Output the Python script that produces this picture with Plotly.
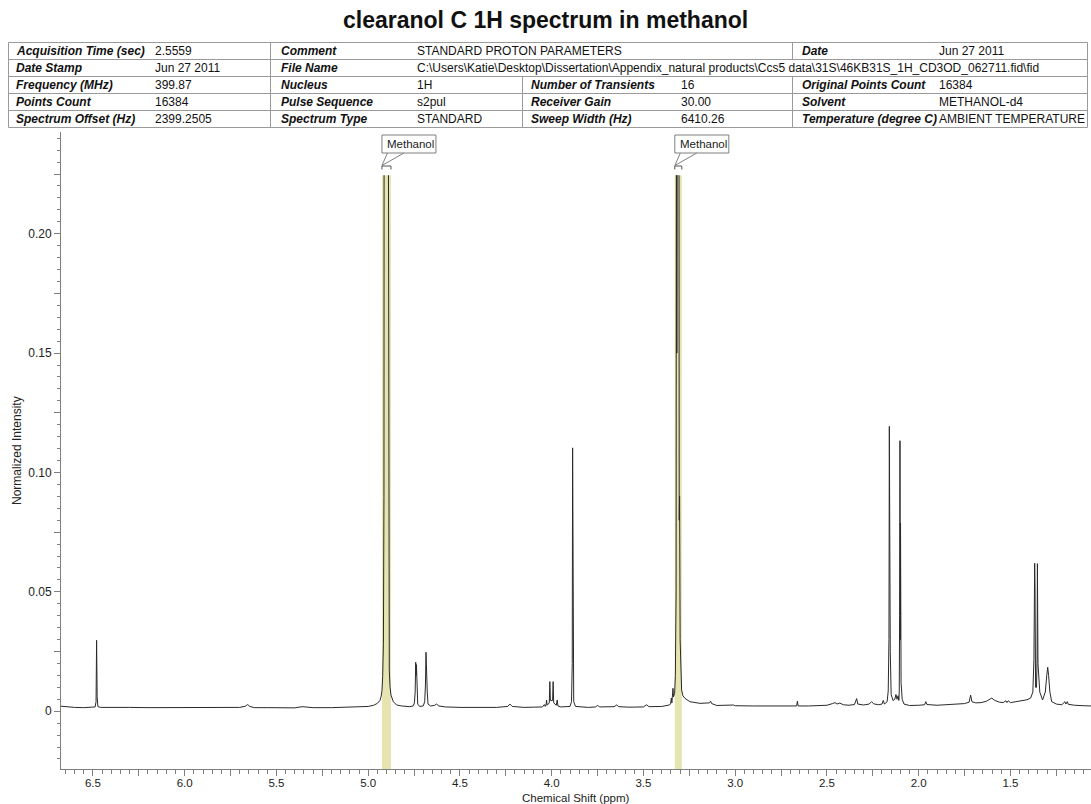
import plotly.graph_objects as go

# ---------------- spectrum: chemical shift (ppm) / normalized intensity ----------------
shift_ppm = [
    6.674, 6.660, 6.640, 6.600, 6.550, 6.500, 6.488, 6.483, 6.480, 6.477, 6.473, 6.460,
    6.400, 6.300, 6.200, 6.100, 6.000, 5.900, 5.850, 5.800, 5.700, 5.670, 5.657, 5.645,
    5.620, 5.550, 5.450, 5.400, 5.360, 5.340, 5.300, 5.200, 5.100, 5.030, 5.000, 4.970,
    4.950, 4.936, 4.930, 4.925, 4.921, 4.917, 4.914, 4.913, 4.902, 4.891, 4.889, 4.885,
    4.881, 4.876, 4.863, 4.845, 4.818, 4.790, 4.773, 4.755, 4.748, 4.744, 4.741, 4.739,
    4.737, 4.734, 4.730, 4.720, 4.700, 4.692, 4.688, 4.685, 4.683, 4.681, 4.678, 4.674,
    4.660, 4.640, 4.627, 4.615, 4.580, 4.500, 4.400, 4.300, 4.240, 4.228, 4.215, 4.150,
    4.100, 4.050, 4.040, 4.035, 4.030, 4.028, 4.025, 4.013, 4.010, 4.007, 3.995, 3.992,
    3.989, 3.975, 3.970, 3.966, 3.950, 3.900, 3.892, 3.888, 3.886, 3.884, 3.880, 3.870,
    3.800, 3.760, 3.749, 3.740, 3.700, 3.660, 3.646, 3.635, 3.580, 3.500, 3.483, 3.470,
    3.400, 3.370, 3.360, 3.352, 3.348, 3.345, 3.342, 3.339, 3.336, 3.330, 3.326, 3.322,
    3.320, 3.318, 3.316, 3.313, 3.307, 3.305, 3.303, 3.300, 3.296, 3.292, 3.285, 3.274,
    3.247, 3.192, 3.140, 3.134, 3.128, 3.100, 3.009, 3.000, 2.900, 2.800, 2.700, 2.665,
    2.661, 2.657, 2.600, 2.550, 2.500, 2.470, 2.456, 2.445, 2.430, 2.410, 2.380, 2.350,
    2.338, 2.332, 2.300, 2.270, 2.257, 2.245, 2.220, 2.200, 2.193, 2.187, 2.172, 2.166,
    2.162, 2.160, 2.158, 2.157, 2.155, 2.150, 2.140, 2.130, 2.124, 2.118, 2.112, 2.108,
    2.106, 2.104, 2.102, 2.100, 2.099, 2.096, 2.090, 2.080, 2.050, 2.000, 1.968, 1.961,
    1.955, 1.900, 1.850, 1.800, 1.750, 1.725, 1.717, 1.710, 1.690, 1.660, 1.630, 1.602,
    1.585, 1.560, 1.540, 1.525, 1.519, 1.512, 1.500, 1.470, 1.440, 1.410, 1.390, 1.378,
    1.372, 1.368, 1.366, 1.363, 1.358, 1.355, 1.353, 1.350, 1.340, 1.325, 1.310, 1.302,
    1.297, 1.292, 1.285, 1.275, 1.250, 1.220, 1.203, 1.198, 1.190, 1.185, 1.150, 1.100,
    1.061,
]
intensity = [
    0.0021, 0.0020, 0.0017, 0.0016, 0.0015, 0.0016, 0.0018, 0.0040, 0.0297, 0.0060, 0.0020, 0.0016,
    0.0015, 0.0016, 0.0015, 0.0015, 0.0016, 0.0015, 0.0017, 0.0015, 0.0016, 0.0021, 0.0028, 0.0020,
    0.0015, 0.0015, 0.0014, 0.0014, 0.0019, 0.0018, 0.0015, 0.0015, 0.0016, 0.0017, 0.0020, 0.0025,
    0.0033, 0.0045, 0.0060, 0.0085, 0.0145, 0.0285, 0.0900, 0.3000, 0.9000, 0.3000, 0.0900, 0.0173,
    0.0103, 0.0068, 0.0040, 0.0026, 0.0022, 0.0020, 0.0019, 0.0022, 0.0035, 0.0080, 0.0205, 0.0150,
    0.0195, 0.0070, 0.0030, 0.0020, 0.0022, 0.0040, 0.0110, 0.0247, 0.0160, 0.0212, 0.0080, 0.0030,
    0.0022, 0.0024, 0.0030, 0.0022, 0.0018, 0.0016, 0.0016, 0.0016, 0.0020, 0.0030, 0.0020, 0.0016,
    0.0017, 0.0018, 0.0028, 0.0020, 0.0030, 0.0047, 0.0025, 0.0035, 0.0124, 0.0045, 0.0045, 0.0124,
    0.0035, 0.0025, 0.0047, 0.0022, 0.0018, 0.0020, 0.0040, 0.0200, 0.1103, 0.0200, 0.0040, 0.0020,
    0.0016, 0.0018, 0.0025, 0.0018, 0.0017, 0.0019, 0.0026, 0.0019, 0.0017, 0.0018, 0.0027, 0.0019,
    0.0020, 0.0023, 0.0026, 0.0030, 0.0055, 0.0035, 0.0060, 0.0096, 0.0060, 0.0075, 0.0150, 0.0500,
    0.3500, 0.1500, 0.1710, 0.4000, 0.3500, 0.0800, 0.0900, 0.0300, 0.0150, 0.0089, 0.0065, 0.0054,
    0.0040, 0.0033, 0.0035, 0.0042, 0.0032, 0.0024, 0.0026, 0.0023, 0.0022, 0.0022, 0.0021, 0.0022,
    0.0042, 0.0022, 0.0022, 0.0023, 0.0025, 0.0032, 0.0036, 0.0030, 0.0034, 0.0027, 0.0025, 0.0028,
    0.0053, 0.0030, 0.0026, 0.0030, 0.0040, 0.0031, 0.0027, 0.0030, 0.0045, 0.0030, 0.0040, 0.0085,
    0.0300, 0.1193, 0.0400, 0.1098, 0.0250, 0.0070, 0.0045, 0.0050, 0.0070, 0.0050, 0.0065, 0.0045,
    0.0080, 0.0400, 0.1133, 0.0300, 0.0788, 0.0120, 0.0050, 0.0030, 0.0024, 0.0025, 0.0027, 0.0040,
    0.0028, 0.0025, 0.0027, 0.0029, 0.0032, 0.0038, 0.0068, 0.0040, 0.0035, 0.0036, 0.0042, 0.0055,
    0.0045, 0.0038, 0.0036, 0.0044, 0.0036, 0.0044, 0.0036, 0.0040, 0.0044, 0.0048, 0.0055, 0.0080,
    0.0215, 0.0620, 0.0520, 0.0100, 0.0100, 0.0215, 0.0618, 0.0200, 0.0080, 0.0047, 0.0080, 0.0150,
    0.0184, 0.0150, 0.0080, 0.0040, 0.0030, 0.0027, 0.0040, 0.0030, 0.0040, 0.0029, 0.0025, 0.0023,
    0.0022,
]

# solvent regions highlighted on the spectrum (high ppm, low ppm)
solvent_label = "Methanol"
solvent_regions = [(4.925, 4.876), (3.329, 3.291)]

# display window of the spectrum
x_window = (6.674, 1.061)
y_window = (-0.0242, 0.2426)
clip_level = 0.2245  # spectrum drawing is cut off at this intensity

x_major = [6.5 - 0.25 * i for i in range(22)]
y_major = [0.025 * i for i in range(10)]

title_text = "clearanol C 1H spectrum in methanol"

file_name = r"C:\Users\Katie\Desktop\Dissertation\Appendix_natural products\Ccs5 data\31S\46KB31S_1H_CD3OD_062711.fid\fid"

# acquisition parameter table, four label/value groups per row (None = spanned cell)
param_rows = [
    [("Acquisition Time (sec)", "2.5559"), ("Comment", "STANDARD PROTON PARAMETERS"), None, ("Date", "Jun 27 2011")],
    [("Date Stamp", "Jun 27 2011"), ("File Name", file_name), None, None],
    [("Frequency (MHz)", "399.87"), ("Nucleus", "1H"), ("Number of Transients", "16"), ("Original Points Count", "16384")],
    [("Points Count", "16384"), ("Pulse Sequence", "s2pul"), ("Receiver Gain", "30.00"), ("Solvent", "METHANOL-d4")],
    [("Spectrum Offset (Hz)", "2399.2505"), ("Spectrum Type", "STANDARD"), ("Sweep Width (Hz)", "6410.26"), ("Temperature (degree C)", "AMBIENT TEMPERATURE")],
]

# ---------------- page geometry (pixels) ----------------
W, H = 1091, 804
ML, MR, MT, MB = 61, 0, 132, 35
PW, PH = W - ML - MR, H - MT - MB
FONT = "Liberation Sans, Arial, Helvetica, sans-serif"
GRID = "#9a9a9a"
AXIS = "#7f7f7f"


def px(x):
    return (x - ML) / PW


def py(y):
    return (H - MB - y) / PH


# table layout
table_left, table_right = 8.5, 1087.5
row_top, row_h = 42.5, 17.0
group_label_x = [14, 279, 529, 800]
group_value_x = [153, 415, 679, 937]
group_divider_x = [270.5, 522.5, 792.5]

shapes = []
annotations = []

# solvent bands
for hi, lo in solvent_regions:
    shapes.append(dict(type="rect", xref="x", yref="y", x0=hi, x1=lo,
                       y0=y_window[0], y1=clip_level, fillcolor="#e6e4b1",
                       line=dict(width=0), layer="below"))

# solvent callouts: labelled box, pointer and bracket over each band
ppm_per_px = (x_window[0] - x_window[1]) / PW
for hi, lo in solvent_regions:
    bx0, bx1 = hi, hi - 54 * ppm_per_px
    shapes.append(dict(type="rect", xref="x", yref="paper", x0=bx0, x1=bx1,
                       y0=py(153), y1=py(135), fillcolor="white",
                       line=dict(color=AXIS, width=1)))
    pa, pb = hi - 5.5 * ppm_per_px, hi - 22 * ppm_per_px
    shapes.append(dict(type="path", xref="x", yref="paper",
                       path=f"M {pa},{py(153)} L {hi},{py(165.5)} L {pb},{py(153)}",
                       line=dict(color=AXIS, width=1)))
    shapes.append(dict(type="path", xref="x", yref="paper",
                       path=f"M {hi},{py(169.5)} L {hi},{py(166)} L {lo},{py(166)} L {lo},{py(169.5)}",
                       line=dict(color="#555555", width=1)))
    annotations.append(dict(text=solvent_label, xref="x", yref="paper",
                            x=(bx0 + bx1) / 2 - 1.5 * ppm_per_px, y=py(144),
                            xanchor="center", yanchor="middle", showarrow=False,
                            font=dict(family=FONT, size=11.5, color="#222222")))

# parameter table grid
n_rows = len(param_rows)
for i in range(n_rows + 1):
    yy = row_top + i * row_h
    shapes.append(dict(type="line", xref="paper", yref="paper",
                       x0=px(table_left), x1=px(table_right), y0=py(yy), y1=py(yy),
                       line=dict(color=GRID, width=1)))
for xx in (table_left, table_right):
    shapes.append(dict(type="line", xref="paper", yref="paper",
                       x0=px(xx), x1=px(xx), y0=py(row_top), y1=py(row_top + n_rows * row_h),
                       line=dict(color=GRID, width=1)))
for r, row in enumerate(param_rows):
    y_top, y_bot = row_top + r * row_h, row_top + (r + 1) * row_h
    for g in range(1, 4):
        if row[g] is not None:
            xx = group_divider_x[g - 1]
            shapes.append(dict(type="line", xref="paper", yref="paper",
                               x0=px(xx), x1=px(xx), y0=py(y_top), y1=py(y_bot),
                               line=dict(color=GRID, width=1)))
    for g, cell in enumerate(row):
        if cell is None:
            continue
        label, value = cell
        yc = py((y_top + y_bot) / 2)
        annotations.append(dict(text=f"<b><i>{label}</i></b>", xref="paper", yref="paper",
                                x=px(group_label_x[g]), y=yc, xanchor="left", yanchor="middle",
                                showarrow=False, font=dict(family=FONT, size=12, color="#111111")))
        annotations.append(dict(text=value, xref="paper", yref="paper",
                                x=px(group_value_x[g]), y=yc, xanchor="left", yanchor="middle",
                                showarrow=False, font=dict(family=FONT, size=12, color="#111111")))

# title and axis titles
annotations.append(dict(text=f"<b>{title_text}</b>", xref="paper", yref="paper",
                        x=px(545.5), y=py(20), xanchor="center", yanchor="middle",
                        showarrow=False, font=dict(family=FONT, size=23, color="#111111")))
annotations.append(dict(text="Normalized Intensity", xref="paper", yref="paper",
                        x=px(16.5), y=0.5, xanchor="center", yanchor="middle", textangle=-90,
                        showarrow=False, font=dict(family=FONT, size=12, color="#222222")))
annotations.append(dict(text="Chemical Shift (ppm)", xref="paper", yref="paper",
                        x=0.5, y=py(798), xanchor="center", yanchor="middle",
                        showarrow=False, font=dict(family=FONT, size=11.5, color="#222222")))

x_text = [f"{v:.1f}" if abs(v * 2 - round(v * 2)) < 1e-9 else "" for v in x_major]
y_text = []
for v in y_major:
    if abs(v) < 1e-12:
        y_text.append("0")
    elif abs(v * 20 - round(v * 20)) < 1e-9:
        y_text.append(f"{v:.2f}")
    else:
        y_text.append("")

spectrum_domain_top = (clip_level - y_window[0]) / (y_window[1] - y_window[0])

fig = go.Figure()
fig.add_trace(go.Scatter(x=shift_ppm, y=intensity, mode="lines", xaxis="x", yaxis="y2",
                         line=dict(color="#2a2a2a", width=1), hoverinfo="skip",
                         showlegend=False))

fig.update_layout(
    width=W, height=H, autosize=False,
    margin=dict(l=ML, r=MR, t=MT, b=MB, pad=0),
    paper_bgcolor="white", plot_bgcolor="rgba(0,0,0,0)",
    font=dict(family=FONT, size=12, color="#222222"),
    showlegend=False,
    xaxis=dict(range=list(x_window), domain=[0, 1], anchor="y",
               showline=True, linecolor=AXIS, linewidth=1, mirror=False,
               showgrid=False, zeroline=False,
               ticks="outside", ticklen=6, tickwidth=1, tickcolor=AXIS,
               tickmode="array", tickvals=x_major, ticktext=x_text,
               ticklabelstandoff=-3,
               tickfont=dict(family=FONT, size=11.5, color="#222222"),
               minor=dict(tickmode="linear", tick0=0, dtick=0.05, ticks="outside",
                          ticklen=3.5, tickwidth=1, tickcolor=AXIS, showgrid=False)),
    yaxis=dict(range=list(y_window), domain=[0, 1], anchor="x",
               showline=True, linecolor=AXIS, linewidth=1,
               showgrid=False, zeroline=False,
               ticks="outside", ticklen=6, tickwidth=1, tickcolor=AXIS,
               tickmode="array", tickvals=y_major, ticktext=y_text,
               tickfont=dict(family=FONT, size=12, color="#222222"),
               minor=dict(tickmode="linear", tick0=0, dtick=0.005, ticks="outside",
                          ticklen=3.5, tickwidth=1, tickcolor=AXIS, showgrid=False)),
    yaxis2=dict(range=[y_window[0], clip_level], domain=[0, spectrum_domain_top],
                anchor="x", visible=False, showgrid=False, zeroline=False),
    shapes=shapes,
    annotations=annotations,
)

fig.write_html("out.html")
